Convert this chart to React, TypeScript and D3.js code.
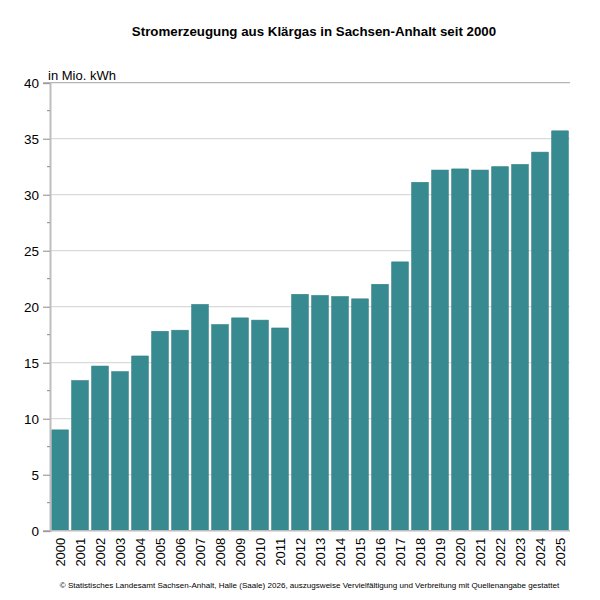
import { useEffect, useRef } from "react";
import * as d3 from "d3";

// Stromerzeugung aus Klärgas, Sachsen-Anhalt (Mio. kWh)
const years: string[] = [
  "2000", "2001", "2002", "2003", "2004", "2005", "2006", "2007", "2008",
  "2009", "2010", "2011", "2012", "2013", "2014", "2015", "2016", "2017",
  "2018", "2019", "2020", "2021", "2022", "2023", "2024", "2025",
];
const values: number[] = [
  9.0, 13.4, 14.7, 14.2, 15.6, 17.8, 17.9, 20.2, 18.4, 19.0, 18.8, 18.1, 21.1,
  21.0, 20.9, 20.7, 22.0, 24.0, 31.1, 32.2, 32.3, 32.2, 32.5, 32.7, 33.8, 35.7,
];
const yTicks: number[] = [0, 5, 10, 15, 20, 25, 30, 35, 40];
const yMinorTicks: number[] = [2.5, 7.5, 12.5, 17.5, 22.5, 27.5, 32.5, 37.5];

const title = "Stromerzeugung aus Klärgas in Sachsen-Anhalt seit 2000";
const unitLabel = "in Mio. kWh";
const footer =
  "© Statistisches Landesamt Sachsen-Anhalt, Halle (Saale) 2026, auszugsweise Vervielfältigung und Verbreitung mit Quellenangabe gestattet";

const FONT = "Arial, 'Liberation Sans', sans-serif";

export default function App() {
  const svgRef = useRef<SVGSVGElement | null>(null);

  useEffect(() => {
    if (!svgRef.current) return;

    const width = 600;
    const height = 600;
    const margin = { top: 82.7, right: 30, bottom: 69.3, left: 50 };

    const svg = d3.select(svgRef.current);
    svg.selectAll("*").remove();

    const x = d3
      .scaleBand<string>()
      .domain(years)
      .range([margin.left, width - margin.right])
      .paddingInner(0.17)
      .paddingOuter(0.085);

    const y = d3
      .scaleLinear()
      .domain([0, 40])
      .range([height - margin.bottom, margin.top]);

    // gridlines
    svg
      .append("g")
      .selectAll("line")
      .data(yTicks.filter((d) => d > 0 && d < 40))
      .join("line")
      .attr("x1", margin.left)
      .attr("x2", width - margin.right)
      .attr("y1", (d) => y(d))
      .attr("y2", (d) => y(d))
      .attr("stroke", "#dadada")
      .attr("stroke-width", 1.2);

    // top border
    svg
      .append("line")
      .attr("x1", margin.left)
      .attr("x2", width - margin.right)
      .attr("y1", y(40))
      .attr("y2", y(40))
      .attr("stroke", "#b4b4b4")
      .attr("stroke-width", 1.2);

    // bars
    svg
      .append("g")
      .selectAll("rect")
      .data(values)
      .join("rect")
      .attr("x", (_, i) => x(years[i]) as number)
      .attr("width", x.bandwidth())
      .attr("y", (d) => y(d))
      .attr("height", (d) => y(0) - y(d))
      .attr("fill", "#388a91")
      .attr("stroke", "#2e7e85")
      .attr("stroke-width", 0.6);

    // y axis
    const yAxis = d3
      .axisLeft(y)
      .tickValues(yTicks)
      .tickSize(7)
      .tickPadding(4)
      .tickFormat((d) => String(d));

    const gy = svg
      .append("g")
      .attr("transform", `translate(${margin.left},0)`)
      .call(yAxis);
    gy.select(".domain").attr("stroke", "#bdbdbd").attr("stroke-width", 2);
    gy.selectAll(".tick line").attr("stroke", "#8a8a8a");
    gy.selectAll(".tick text")
      .attr("font-family", FONT)
      .attr("font-size", 13.5)
      .attr("fill", "#000");

    svg
      .append("g")
      .selectAll("line")
      .data(yMinorTicks)
      .join("line")
      .attr("x1", margin.left - 3)
      .attr("x2", margin.left)
      .attr("y1", (d) => y(d))
      .attr("y2", (d) => y(d))
      .attr("stroke", "#8a8a8a");

    // bottom axis line
    svg
      .append("line")
      .attr("x1", margin.left)
      .attr("x2", width - margin.right)
      .attr("y1", y(0))
      .attr("y2", y(0))
      .attr("stroke", "#bdbdbd")
      .attr("stroke-width", 1.5);

    // x labels, rotated
    svg
      .append("g")
      .selectAll("text")
      .data(years)
      .join("text")
      .attr(
        "transform",
        (d) => `translate(${(x(d) as number) + x.bandwidth() / 2},${y(0) + 7}) rotate(-90)`
      )
      .attr("text-anchor", "end")
      .attr("dominant-baseline", "central")
      .attr("font-family", FONT)
      .attr("font-size", 13)
      .attr("fill", "#000")
      .text((d) => d);

    svg
      .append("text")
      .attr("x", 48)
      .attr("y", 80)
      .attr("font-family", FONT)
      .attr("font-size", 13)
      .attr("fill", "#000")
      .text(unitLabel);

    svg
      .append("text")
      .attr("x", 314)
      .attr("y", 36)
      .attr("text-anchor", "middle")
      .attr("font-family", FONT)
      .attr("font-size", 13.3)
      .attr("font-weight", "bold")
      .attr("fill", "#000")
      .text(title);

    svg
      .append("text")
      .attr("x", 309.5)
      .attr("y", 588)
      .attr("text-anchor", "middle")
      .attr("font-family", FONT)
      .attr("font-size", 8.05)
      .attr("fill", "#000")
      .text(footer);
  }, []);

  return (
    <div style={{ position: "absolute", left: 0, top: 0 }}>
      <svg ref={svgRef} width={600} height={600} style={{ display: "block", background: "#fff" }}></svg>
    </div>
  );
}
